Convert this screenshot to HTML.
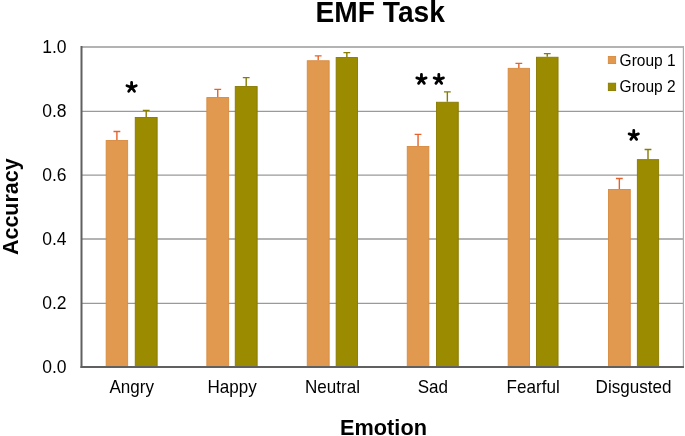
<!DOCTYPE html>
<html><head><meta charset="utf-8"><title>EMF Task</title><style>
html,body{margin:0;padding:0;background:#fff;width:685px;height:436px;overflow:hidden}
svg{display:block;will-change:transform}
text{font-family:"Liberation Sans",sans-serif;fill:#000}
.b{font-weight:bold}
</style></head><body>
<svg width="685" height="436" viewBox="0 0 685 436">
<g stroke="#9A9A9A" stroke-width="1.3">
<line x1="81" y1="303.40" x2="684" y2="303.40"/>
<line x1="81" y1="239.00" x2="684" y2="239.00"/>
<line x1="81" y1="175.10" x2="684" y2="175.10"/>
<line x1="81" y1="111.40" x2="684" y2="111.40"/>
<line x1="81" y1="47.00" x2="684" y2="47.00"/>
</g>
<line x1="683.4" y1="47" x2="683.4" y2="367" stroke="#AAAAAA" stroke-width="1.2"/>
<rect x="106.15" y="140.55" width="21.50" height="226.00" fill="#E0994F" stroke="#D98B3F" stroke-width="0.9"/>
<path d="M116.90 140.10V131.50M113.50 131.50H120.30" stroke="#E6622A" stroke-width="1.4" fill="none"/>
<rect x="135.25" y="117.45" width="21.90" height="249.10" fill="#9A8B00" stroke="#887A00" stroke-width="0.9"/>
<path d="M146.20 117.00V110.40M142.80 110.40H149.60" stroke="#877C00" stroke-width="1.4" fill="none"/>
<rect x="206.85" y="97.55" width="21.80" height="269.00" fill="#E0994F" stroke="#D98B3F" stroke-width="0.9"/>
<path d="M217.75 97.10V89.40M214.35 89.40H221.15" stroke="#E6622A" stroke-width="1.4" fill="none"/>
<rect x="235.25" y="86.55" width="21.90" height="280.00" fill="#9A8B00" stroke="#887A00" stroke-width="0.9"/>
<path d="M246.20 86.10V77.60M242.80 77.60H249.60" stroke="#877C00" stroke-width="1.4" fill="none"/>
<rect x="307.25" y="60.75" width="21.90" height="305.80" fill="#E0994F" stroke="#D98B3F" stroke-width="0.9"/>
<path d="M318.20 60.30V55.90M314.80 55.90H321.60" stroke="#E6622A" stroke-width="1.4" fill="none"/>
<rect x="336.15" y="57.55" width="21.40" height="309.00" fill="#9A8B00" stroke="#887A00" stroke-width="0.9"/>
<path d="M346.85 57.10V52.60M343.45 52.60H350.25" stroke="#877C00" stroke-width="1.4" fill="none"/>
<rect x="407.25" y="146.45" width="21.60" height="220.10" fill="#E0994F" stroke="#D98B3F" stroke-width="0.9"/>
<path d="M418.05 146.00V134.40M414.65 134.40H421.45" stroke="#E6622A" stroke-width="1.4" fill="none"/>
<rect x="436.45" y="102.25" width="21.80" height="264.30" fill="#9A8B00" stroke="#887A00" stroke-width="0.9"/>
<path d="M447.35 101.80V91.90M443.95 91.90H450.75" stroke="#877C00" stroke-width="1.4" fill="none"/>
<rect x="508.15" y="68.35" width="21.40" height="298.20" fill="#E0994F" stroke="#D98B3F" stroke-width="0.9"/>
<path d="M518.85 67.90V63.40M515.45 63.40H522.25" stroke="#E6622A" stroke-width="1.4" fill="none"/>
<rect x="536.45" y="57.25" width="21.60" height="309.30" fill="#9A8B00" stroke="#887A00" stroke-width="0.9"/>
<path d="M547.25 56.80V53.60M543.85 53.60H550.65" stroke="#877C00" stroke-width="1.4" fill="none"/>
<rect x="608.45" y="189.45" width="21.80" height="177.10" fill="#E0994F" stroke="#D98B3F" stroke-width="0.9"/>
<path d="M619.35 189.00V178.50M615.95 178.50H622.75" stroke="#E6622A" stroke-width="1.4" fill="none"/>
<rect x="637.35" y="159.65" width="21.30" height="206.90" fill="#9A8B00" stroke="#887A00" stroke-width="0.9"/>
<path d="M648.00 159.20V149.50M644.60 149.50H651.40" stroke="#877C00" stroke-width="1.4" fill="none"/>
<line x1="81.5" y1="46" x2="81.5" y2="368" stroke="#606060" stroke-width="2.0"/>
<line x1="80.5" y1="367" x2="684" y2="367" stroke="#606060" stroke-width="2.0"/>
<text x="66.6" y="372.80" font-size="17.5" text-anchor="end">0.0</text>
<text x="66.6" y="308.80" font-size="17.5" text-anchor="end">0.2</text>
<text x="66.6" y="244.80" font-size="17.5" text-anchor="end">0.4</text>
<text x="66.6" y="180.80" font-size="17.5" text-anchor="end">0.6</text>
<text x="66.6" y="116.80" font-size="17.5" text-anchor="end">0.8</text>
<text x="66.6" y="52.80" font-size="17.5" text-anchor="end">1.0</text>
<text transform="translate(131.75,393.1) scale(0.975,1)" font-size="17.5" text-anchor="middle">Angry</text>
<text transform="translate(232.10,393.1) scale(0.975,1)" font-size="17.5" text-anchor="middle">Happy</text>
<text transform="translate(332.45,393.1) scale(0.975,1)" font-size="17.5" text-anchor="middle">Neutral</text>
<text transform="translate(432.80,393.1) scale(0.975,1)" font-size="17.5" text-anchor="middle">Sad</text>
<text transform="translate(533.15,393.1) scale(0.975,1)" font-size="17.5" text-anchor="middle">Fearful</text>
<text transform="translate(633.50,393.1) scale(0.975,1)" font-size="17.5" text-anchor="middle">Disgusted</text>
<text class="b" transform="translate(380.2,22) scale(0.972,1)" font-size="29" text-anchor="middle">EMF Task</text>
<text class="b" transform="translate(383.5,434.7) scale(0.965,1)" font-size="22.5" text-anchor="middle">Emotion</text>
<text class="b" transform="translate(18,206.7) rotate(-90) scale(0.955,1)" font-size="22.5" text-anchor="middle">Accuracy</text>
<path d="M131.60 87.30L131.60 82.40M131.60 87.30L136.26 85.79M131.60 87.30L134.48 91.26M131.60 87.30L128.72 91.26M131.60 87.30L126.94 85.79" stroke="#000" stroke-width="2.8" stroke-linecap="round" stroke-linejoin="round" fill="none"/>
<path d="M421.45 79.40L421.45 74.50M421.45 79.40L426.11 77.89M421.45 79.40L424.33 83.36M421.45 79.40L418.57 83.36M421.45 79.40L416.79 77.89" stroke="#000" stroke-width="2.8" stroke-linecap="round" stroke-linejoin="round" fill="none"/>
<path d="M438.80 79.40L438.80 74.50M438.80 79.40L443.46 77.89M438.80 79.40L441.68 83.36M438.80 79.40L435.92 83.36M438.80 79.40L434.14 77.89" stroke="#000" stroke-width="2.8" stroke-linecap="round" stroke-linejoin="round" fill="none"/>
<path d="M633.75 135.40L633.75 130.50M633.75 135.40L638.41 133.89M633.75 135.40L636.63 139.36M633.75 135.40L630.87 139.36M633.75 135.40L629.09 133.89" stroke="#000" stroke-width="2.8" stroke-linecap="round" stroke-linejoin="round" fill="none"/>
<rect x="608.35" y="56.45" width="7.3" height="7.1" fill="#E0994F" stroke="#D98B3F" stroke-width="0.9"/>
<rect x="608.35" y="83.2" width="7.3" height="7.4" fill="#9A8B00" stroke="#887A00" stroke-width="0.9"/>
<text transform="translate(619.6,65.6) scale(0.97,1)" font-size="16">Group 1</text>
<text transform="translate(619.6,91.6) scale(0.97,1)" font-size="16">Group 2</text>
</svg>
</body></html>
